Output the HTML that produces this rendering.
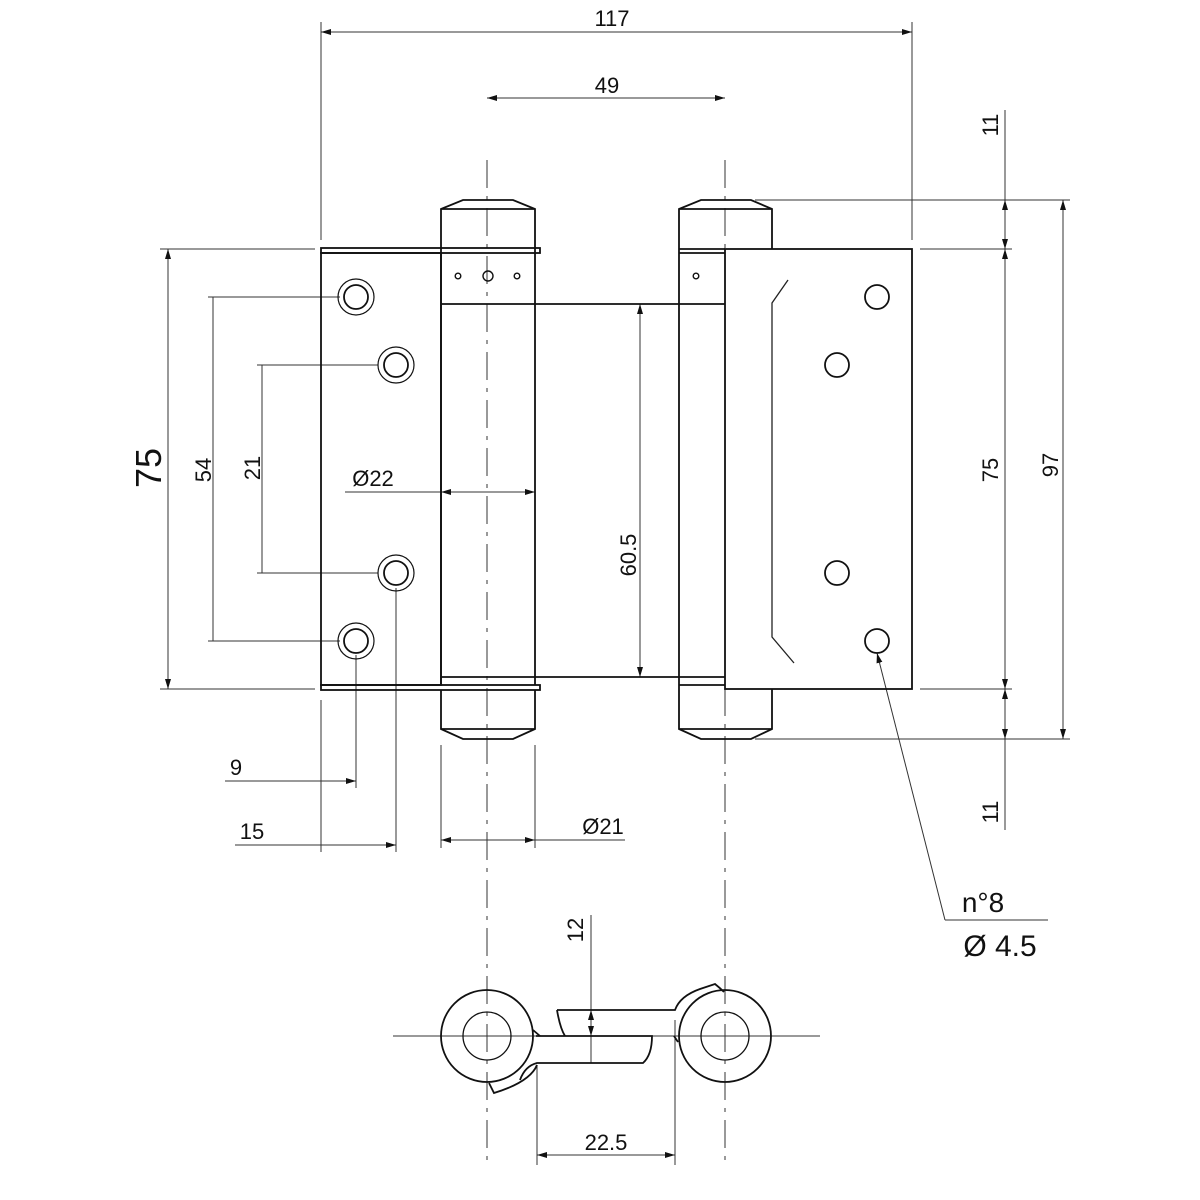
<!DOCTYPE html>
<html><head><meta charset="utf-8"><style>
html,body{margin:0;padding:0;background:#fff;}
svg{display:block;}
text{font-family:"Liberation Sans",sans-serif;fill:#111;}
</style></head><body>
<svg width="1200" height="1200" viewBox="0 0 1200 1200" xmlns="http://www.w3.org/2000/svg">
<defs>
<marker id="a" viewBox="0 0 10 6" refX="10" refY="3" markerWidth="10" markerHeight="6" orient="auto-start-reverse" markerUnits="userSpaceOnUse"><path d="M0,0 L10,3 L0,6 z" fill="#111"/></marker>
</defs>
<g stroke="#333" stroke-width="1" fill="none">
<line x1="487" y1="160" x2="487" y2="1165" stroke-dasharray="28,8,4,8"/>
<line x1="725" y1="160" x2="725" y2="1165" stroke-dasharray="28,8,4,8"/>
<line x1="321" y1="22" x2="321" y2="240"/>
<line x1="912" y1="22" x2="912" y2="240"/>
<line x1="321" y1="32" x2="912" y2="32" marker-start="url(#a)" marker-end="url(#a)"/>
<line x1="487" y1="98" x2="725" y2="98" marker-start="url(#a)" marker-end="url(#a)"/>
<line x1="160" y1="249" x2="315" y2="249"/>
<line x1="160" y1="689" x2="315" y2="689"/>
<line x1="168" y1="249" x2="168" y2="689" marker-start="url(#a)" marker-end="url(#a)"/>
<line x1="208" y1="297" x2="340" y2="297"/>
<line x1="208" y1="641" x2="340" y2="641"/>
<line x1="213" y1="297" x2="213" y2="641"/>
<line x1="257" y1="365" x2="378" y2="365"/>
<line x1="257" y1="573" x2="378" y2="573"/>
<line x1="262" y1="365" x2="262" y2="573"/>
<line x1="441" y1="492" x2="535" y2="492" marker-start="url(#a)" marker-end="url(#a)"/>
<line x1="345" y1="492" x2="441" y2="492"/>
<line x1="640" y1="304" x2="640" y2="677" marker-start="url(#a)" marker-end="url(#a)"/>
<line x1="755" y1="200" x2="1070" y2="200"/>
<line x1="755" y1="739" x2="1070" y2="739"/>
<line x1="920" y1="249" x2="1012" y2="249"/>
<line x1="920" y1="689" x2="1012" y2="689"/>
<line x1="1005" y1="110" x2="1005" y2="830"/>
<line x1="1005" y1="249" x2="1005" y2="689" marker-start="url(#a)" marker-end="url(#a)"/>
<line x1="1005" y1="200" x2="1005" y2="249" marker-start="url(#a)" marker-end="url(#a)"/>
<line x1="1005" y1="689" x2="1005" y2="739" marker-start="url(#a)" marker-end="url(#a)"/>
<line x1="1063" y1="200" x2="1063" y2="739" marker-start="url(#a)" marker-end="url(#a)"/>
<line x1="321" y1="700" x2="321" y2="852"/>
<line x1="356" y1="655" x2="356" y2="788"/>
<line x1="396" y1="588" x2="396" y2="852"/>
<line x1="225" y1="781" x2="356" y2="781" marker-end="url(#a)"/>
<line x1="235" y1="845" x2="396" y2="845" marker-end="url(#a)"/>
<line x1="441" y1="745" x2="441" y2="848"/>
<line x1="535" y1="745" x2="535" y2="848"/>
<line x1="441" y1="840" x2="535" y2="840" marker-start="url(#a)" marker-end="url(#a)"/>
<line x1="535" y1="840" x2="625" y2="840"/>
<line x1="877" y1="653" x2="945" y2="920" marker-start="url(#a)"/>
<line x1="945" y1="920" x2="1048" y2="920"/>
<line x1="393" y1="1036" x2="820" y2="1036"/>
<line x1="591" y1="915" x2="591" y2="1063"/>
<line x1="591" y1="1010" x2="591" y2="1036" marker-start="url(#a)" marker-end="url(#a)"/>
<line x1="537" y1="1065" x2="537" y2="1165"/>
<line x1="675" y1="1020" x2="675" y2="1165"/>
<line x1="537" y1="1155" x2="675" y2="1155" marker-start="url(#a)" marker-end="url(#a)"/>
<path d="M788,280 L772,303 V637 L794,663" stroke="#222" stroke-width="1.3"/>
</g>
<g stroke="#111" stroke-width="1.8" fill="none">
<rect x="321" y="253" width="120" height="432"/>
<rect x="321" y="248" width="219" height="5"/>
<rect x="321" y="685" width="219" height="5"/>
<path d="M441,685 V209 L463,200 H513 L535,209 V685"/>
<line x1="441" y1="209" x2="535" y2="209"/>
<line x1="441" y1="304" x2="725" y2="304"/>
<line x1="441" y1="677" x2="725" y2="677"/>
<path d="M441,690 V729 L463,739 H513 L535,729 V690"/>
<line x1="441" y1="729" x2="535" y2="729"/>
<path d="M679,249 V209 L701,200 H751 L772,209 V249"/>
<line x1="679" y1="209" x2="772" y2="209"/>
<path d="M679,249 V689"/>
<line x1="679" y1="249" x2="725" y2="249"/>
<line x1="679" y1="253" x2="725" y2="253"/>
<line x1="679" y1="685" x2="725" y2="685"/>
<path d="M679,689 V729 L701,739 H751 L772,729 V689"/>
<line x1="679" y1="729" x2="772" y2="729"/>
<rect x="725" y="249" width="187" height="440"/>
<circle cx="356" cy="297" r="18" stroke-width="1.2"/><circle cx="356" cy="297" r="12"/>
<circle cx="396" cy="365" r="18" stroke-width="1.2"/><circle cx="396" cy="365" r="12"/>
<circle cx="396" cy="573" r="18" stroke-width="1.2"/><circle cx="396" cy="573" r="12"/>
<circle cx="356" cy="641" r="18" stroke-width="1.2"/><circle cx="356" cy="641" r="12"/>
<circle cx="877" cy="297" r="12"/>
<circle cx="837" cy="365" r="12"/>
<circle cx="837" cy="573" r="12"/>
<circle cx="877" cy="641" r="12"/>
<circle cx="458" cy="276" r="2.8" stroke-width="1.4"/>
<circle cx="488" cy="276" r="5" stroke-width="1.4"/>
<circle cx="517" cy="276" r="2.8" stroke-width="1.4"/>
<circle cx="696" cy="276" r="2.8" stroke-width="1.4"/>
<circle cx="487" cy="1036" r="46"/><circle cx="487" cy="1036" r="24" stroke-width="1.3"/>
<circle cx="725" cy="1036" r="46"/><circle cx="725" cy="1036" r="24" stroke-width="1.3"/>
<path d="M536,1036 H652 Q652,1055 643,1063 H537 Q525,1066 520,1080"/>
<path d="M489,1083 L494,1093 Q530,1082 537,1065" />
<path d="M557,1010 H675 Q680,996 700,989 L715,984 Q720,988 724,992"/>
<path d="M557,1010 Q560,1028 565,1036"/>
<path d="M674,1036 L678,1042"/>
<path d="M533,1030 L540,1036"/>
</g>
<g font-size="22">
<text x="612" y="26" text-anchor="middle">117</text>
<text x="607" y="93" text-anchor="middle">49</text>
<text x="373" y="486" text-anchor="middle">Ø22</text>
<text x="603" y="834" text-anchor="middle">Ø21</text>
<text x="236" y="775" text-anchor="middle">9</text>
<text x="252" y="839" text-anchor="middle">15</text>
<text x="606" y="1150" text-anchor="middle">22.5</text>
<text transform="translate(211,470) rotate(-90)" text-anchor="middle">54</text>
<text transform="translate(260,468) rotate(-90)" text-anchor="middle">21</text>
<text transform="translate(636,555) rotate(-90)" text-anchor="middle">60.5</text>
<text transform="translate(998,470) rotate(-90)" text-anchor="middle">75</text>
<text transform="translate(1058,465) rotate(-90)" text-anchor="middle">97</text>
<text transform="translate(998,125) rotate(-90)" text-anchor="middle">11</text>
<text transform="translate(998,812) rotate(-90)" text-anchor="middle">11</text>
<text transform="translate(583,930) rotate(-90)" text-anchor="middle">12</text>
</g>
<text transform="translate(161,468) rotate(-90)" text-anchor="middle" font-size="36">75</text>
<text x="983" y="912" text-anchor="middle" font-size="28">n°8</text>
<text x="1000" y="956" text-anchor="middle" font-size="30">Ø 4.5</text>
</svg>
</body></html>
